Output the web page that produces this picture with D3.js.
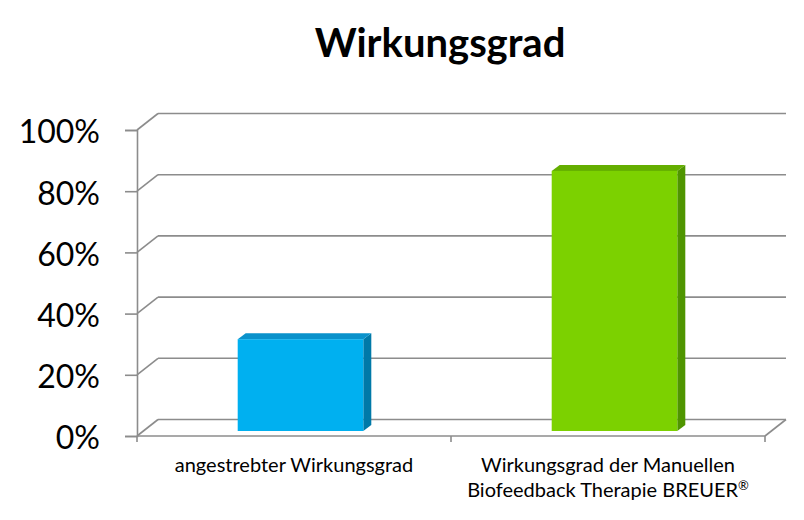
<!DOCTYPE html>
<html><head><meta charset="utf-8">
<script src="https://cdn.jsdelivr.net/npm/d3@7"></script>
<style>body{margin:0;background:#fff;} svg{display:block;}</style>
</head><body>
<svg id="chart" width="804" height="520"></svg>
<script>
const title = "Wirkungsgrad";
const categories = ["angestrebter Wirkungsgrad", "Wirkungsgrad der Manuellen\nBiofeedback Therapie BREUER®"];
const values = [0.30, 0.85];
const tickValues = [0, 0.2, 0.4, 0.6, 0.8, 1.0];
const frontColors = ["#00B0F0", "#7CD100"];
const topColors = ["#0A92CB", "#64AE00"];
const sideColors = ["#0079A8", "#4F9500"];

const svg = d3.select("#chart");
const font = "Lato, 'Open Sans', sans-serif";
const x0 = 137, x1 = 765, yTop = 130, yBot = 436;
const depthX = 21, depthY = -16.5;       // back wall offset
const barOffX = 6.5, barOffY = -5;        // bar front face inset
const barDX = 8, barDY = -6;              // bar depth

const x = d3.scaleBand().domain(categories).range([x0, x1]).padding(0);
const y = d3.scaleLinear().domain([0, 1]).range([yBot, yTop]);
const grid = "#8c8c8c";

// gridlines (back wall) + diagonals
const g = svg.append("g");
tickValues.forEach(t => {
  g.append("line").attr("x1", x0 + depthX).attr("x2", x1 + depthX)
    .attr("y1", y(t) + depthY).attr("y2", y(t) + depthY)
    .attr("stroke", grid).attr("stroke-width", 1.6);
  g.append("line").attr("x1", x0).attr("x2", x0 + depthX)
    .attr("y1", y(t)).attr("y2", y(t) + depthY)
    .attr("stroke", grid).attr("stroke-width", 1.6);
});
// floor right diagonal
g.append("line").attr("x1", x1).attr("x2", x1 + depthX)
  .attr("y1", y(0)).attr("y2", y(0) + depthY).attr("stroke", grid).attr("stroke-width", 1.6);
// front floor line
g.append("line").attr("x1", x0).attr("x2", x1).attr("y1", y(0)).attr("y2", y(0))
  .attr("stroke", grid).attr("stroke-width", 1.6);

// y axis
const yAxis = d3.axisLeft(y).tickValues(tickValues).tickSize(12).tickPadding(10)
  .tickFormat(d3.format(".0%"));
const ya = svg.append("g").attr("transform", `translate(${x0},0)`).call(yAxis);
ya.select(".domain").attr("stroke", grid).attr("stroke-width", 1.6);
ya.selectAll(".tick line").attr("stroke", grid).attr("stroke-width", 1.6);
ya.selectAll(".tick text").attr("font-family", font).attr("font-size", 32).attr("fill", "#000")
  .attr("x", -37).attr("dy", "0.4em");

// x ticks at category boundaries
const bounds = [x0, ...categories.map(c => x(c) + x.bandwidth())];
bounds.forEach(b => {
  g.append("line").attr("x1", b).attr("x2", b).attr("y1", y(0)).attr("y2", y(0) + 6)
    .attr("stroke", grid).attr("stroke-width", 1.6);
});

// bars
const bw = x.bandwidth() * 0.4;
categories.forEach((c, i) => {
  const cx = x(c) + x.bandwidth() / 2 + barOffX;
  const L = cx - bw / 2, R = cx + bw / 2;
  const T = y(values[i]) + barOffY, B = y(0) + barOffY;
  svg.append("path").attr("d", `M${R},${T}L${R + barDX},${T + barDY}L${R + barDX},${B + barDY}L${R},${B}Z`)
    .attr("fill", sideColors[i]);
  svg.append("path").attr("d", `M${L},${T}L${L + barDX},${T + barDY}L${R + barDX},${T + barDY}L${R},${T}Z`)
    .attr("fill", topColors[i]);
  svg.append("rect").attr("x", L).attr("y", T).attr("width", bw).attr("height", B - T)
    .attr("fill", frontColors[i]);
});

// category labels
categories.forEach((c, i) => {
  const lines = c.split("\n");
  const t = svg.append("text").attr("text-anchor", "middle").attr("font-family", font)
    .attr("font-size", 20).attr("fill", "#000");
  lines.forEach((ln, j) => {
    const ts = t.append("tspan").attr("x", x(c) + x.bandwidth() / 2).attr("y", 472 + j * 25);
    if (ln.endsWith("®")) {
      ts.text(ln.slice(0, -1));
      t.append("tspan").attr("font-size", 13).attr("dy", -7).text("®");
    } else {
      ts.text(ln);
    }
  });
});

// title
svg.append("text").attr("x", 440).attr("y", 57).attr("text-anchor", "middle")
  .attr("font-family", font).attr("font-weight", "bold").attr("font-size", 40)
  .attr("fill", "#000").text(title);
</script>
</body></html>
